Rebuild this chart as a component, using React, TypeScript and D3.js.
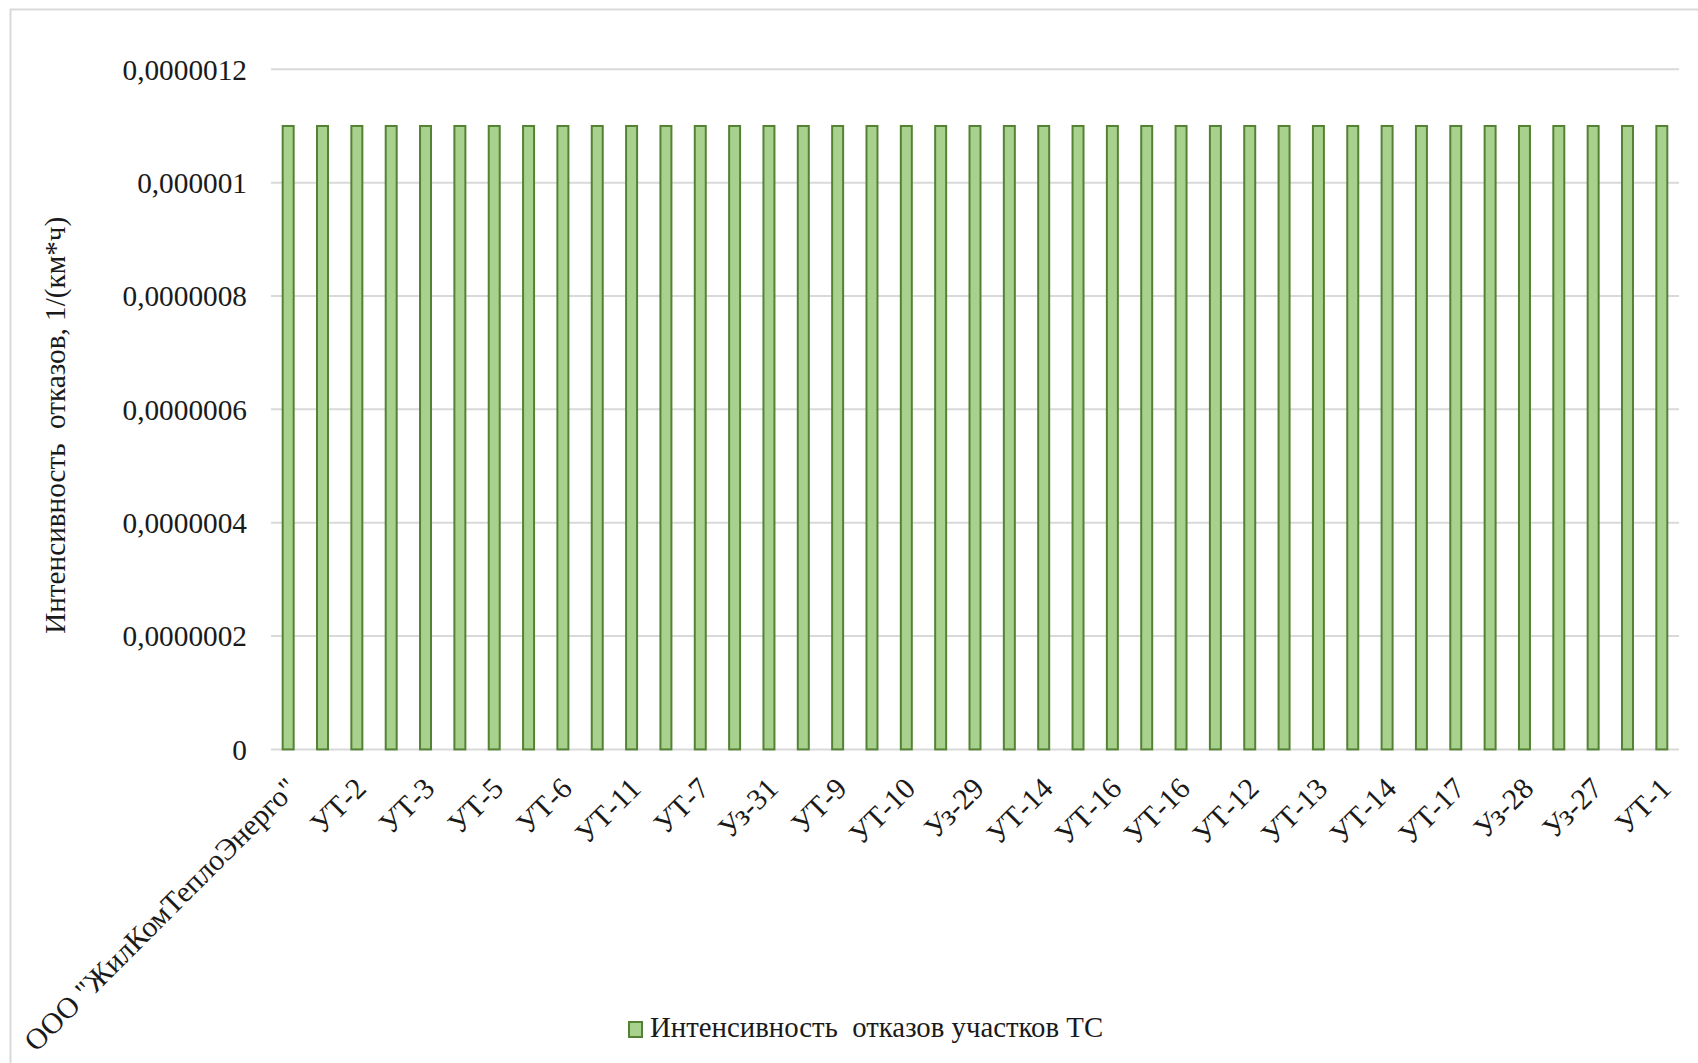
import React from "react";
import * as d3 from "d3";

const categories: string[] = [
  'ООО "ЖилКомТеплоЭнерго"', "", "УТ-2", "", "УТ-3", "", "УТ-5", "", "УТ-6", "",
  "УТ-11", "", "УТ-7", "", "Уз-31", "", "УТ-9", "", "УТ-10", "",
  "Уз-29", "", "УТ-14", "", "УТ-16", "", "УТ-16", "", "УТ-12", "",
  "УТ-13", "", "УТ-14", "", "УТ-17", "", "Уз-28", "", "Уз-27", "", "УТ-1",
];

const values: number[] = [
  0.0000011, 0.0000011, 0.0000011, 0.0000011, 0.0000011, 0.0000011, 0.0000011, 0.0000011, 0.0000011, 0.0000011,
  0.0000011, 0.0000011, 0.0000011, 0.0000011, 0.0000011, 0.0000011, 0.0000011, 0.0000011, 0.0000011, 0.0000011,
  0.0000011, 0.0000011, 0.0000011, 0.0000011, 0.0000011, 0.0000011, 0.0000011, 0.0000011, 0.0000011, 0.0000011,
  0.0000011, 0.0000011, 0.0000011, 0.0000011, 0.0000011, 0.0000011, 0.0000011, 0.0000011, 0.0000011, 0.0000011,
  0.0000011,
];

const yTicks: number[] = [0, 0.0000002, 0.0000004, 0.0000006, 0.0000008, 0.000001, 0.0000012];
const yTickLabels: string[] = ["0", "0,0000002", "0,0000004", "0,0000006", "0,0000008", "0,000001", "0,0000012"];

const yAxisTitle = "Интенсивность  отказов, 1/(км*ч)";
const seriesName = "Интенсивность  отказов участков ТС";

const W = 1698;
const H = 1063;
const FONT = '"Liberation Serif", "Times New Roman", serif';

export default function App() {
  const left = 271;
  const right = 1679;
  const top = 69.3;
  const bottom = 749.4;

  const x = d3
    .scaleBand<number>()
    .domain(categories.map((_, i) => i))
    .range([left, right])
    .paddingInner(0.68)
    .paddingOuter(0.34);
  const y = d3.scaleLinear().domain([0, 0.0000012]).range([bottom, top]);

  const bw = x.bandwidth();

  return (
    <svg
      width={W}
      height={H}
      style={{ position: "absolute", left: 0, top: 0, background: "#fff" }}
      fontFamily={FONT}
    >
      <rect x={0} y={0} width={W} height={H} fill="#fff" />
      <rect x={10.5} y={9.5} width={1720} height={1080} fill="none" stroke="#D9D9D9" strokeWidth={2} />

      {yTicks.map((t, i) => (
        <g key={i}>
          <line x1={left} x2={right} y1={y(t)} y2={y(t)} stroke="#D9D9D9" strokeWidth={2} />
          <text x={247} y={y(t)} dy="0.35em" textAnchor="end" fontSize={29.3} fill="#1a1a1a">
            {yTickLabels[i]}
          </text>
        </g>
      ))}

      {values.map((v, i) => (
        <rect
          key={i}
          x={(x(i) as number)}
          y={y(v)}
          width={bw}
          height={y(0) - y(v)}
          fill="#A9D18E"
          stroke="#548235"
          strokeWidth={2}
        />
      ))}

      {categories.map((c, i) =>
        c ? (
          <text
            key={i}
            transform={`translate(${(x(i) as number) + bw / 2 + 6},${bottom + 36}) rotate(-45)`}
            textAnchor="end"
            dominantBaseline="middle"
            fontSize={29.8}
            fill="#1a1a1a"
          >
            {c}
          </text>
        ) : null
      )}

      <text
        transform={`translate(58,${(top + bottom) / 2 + 16}) rotate(-90)`}
        textAnchor="middle"
        dominantBaseline="middle"
        fontSize={29.2}
        fill="#1a1a1a"
        style={{ whiteSpace: "pre" }}
      >
        {yAxisTitle}
      </text>

      <g>
        <rect x={629} y={1022} width={13} height={15} fill="#A9D18E" stroke="#548235" strokeWidth={2} />
        <text x={650} y={1030} dominantBaseline="middle" fontSize={28.8} fill="#1a1a1a" style={{ whiteSpace: "pre" }}>
          {seriesName}
        </text>
      </g>
    </svg>
  );
}
